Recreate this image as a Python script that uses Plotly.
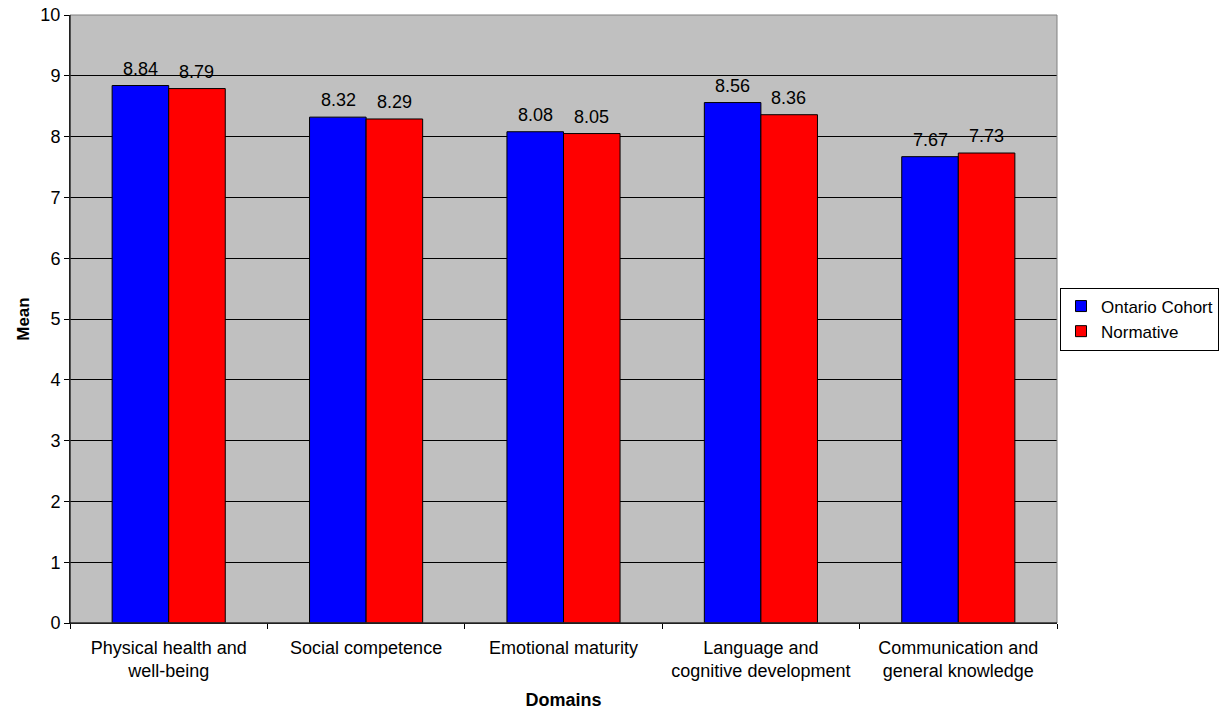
import plotly.graph_objects as go

categories = ["Physical health and<br>well-being", "Social competence", "Emotional maturity",
              "Language and<br>cognitive development", "Communication and<br>general knowledge"]
ontario = [8.84, 8.32, 8.08, 8.56, 7.67]
normative = [8.79, 8.29, 8.05, 8.36, 7.73]
series_names = ["Ontario Cohort", "Normative"]
y_ticks = list(range(0, 11))

FONT = "Liberation Sans, Arial, sans-serif"
colors = ["#0000FF", "#FF0000"]
offsets = [-28, 28]

fig = go.Figure()
for name, vals, col in zip(series_names, [ontario, normative], colors):
    fig.add_trace(go.Bar(
        x=categories, y=vals, name=name, showlegend=False,
        marker=dict(color=col, line=dict(color="black", width=1)),
    ))
    # legend proxy with small square symbol
    fig.add_trace(go.Scatter(
        x=[None], y=[None], mode="markers", name=name,
        marker=dict(symbol="square", size=11, color=col, line=dict(color="black", width=1)),
    ))

# value labels above bars
for vals, dx in zip([ontario, normative], offsets):
    for c, v in zip(categories, vals):
        fig.add_annotation(x=c, y=v, text=f"{v:.2f}", showarrow=False,
                           xanchor="center", yanchor="bottom", xshift=dx, yshift=5,
                           font=dict(family=FONT, size=18, color="black"))

fig.update_layout(
    width=1221, height=710,
    margin=dict(l=70, r=164, t=15, b=87, autoexpand=False),
    paper_bgcolor="white", plot_bgcolor="#C0C0C0",
    barmode="group", bargap=0.427, bargroupgap=0,
    font=dict(family=FONT, size=18, color="black"),
    legend=dict(x=(1219 - 70) / 987, y=0.5, xanchor="right", yanchor="middle",
                bordercolor="black", borderwidth=1, bgcolor="white",
                font=dict(family=FONT, size=17, color="black"),
                itemwidth=30, tracegroupgap=0),
    xaxis=dict(
        title=dict(text="<b>Domains</b>", font=dict(family=FONT, size=18), standoff=13),
        showline=True, linecolor="black", linewidth=1, automargin=False,
        ticks="outside", tickson="boundaries", ticklen=5, tickcolor="black",
        ticklabelstandoff=8,
        tickfont=dict(family=FONT, size=18), showgrid=False,
    ),
    yaxis=dict(
        title=dict(text="<b>Mean</b>", font=dict(family=FONT, size=17), standoff=6),
        range=[0, 10], tickvals=y_ticks, showline=True, linecolor="black", linewidth=1,
        automargin=False,
        ticks="outside", ticklen=5, tickcolor="black",
        showgrid=True, gridcolor="black", gridwidth=1, zeroline=False,
        tickfont=dict(family=FONT, size=18),
    ),
)
fig.add_shape(type="rect", xref="paper", yref="paper", x0=0, x1=1, y0=0, y1=1,
              line=dict(color="#808080", width=1), layer="above")
fig.add_shape(type="line", xref="paper", yref="paper", x0=0, x1=0, y0=0, y1=1,
              line=dict(color="black", width=1), layer="above")
fig.add_shape(type="line", xref="paper", yref="paper", x0=0, x1=1, y0=0, y1=0,
              line=dict(color="black", width=1), layer="above")

fig.write_html("out.html")
